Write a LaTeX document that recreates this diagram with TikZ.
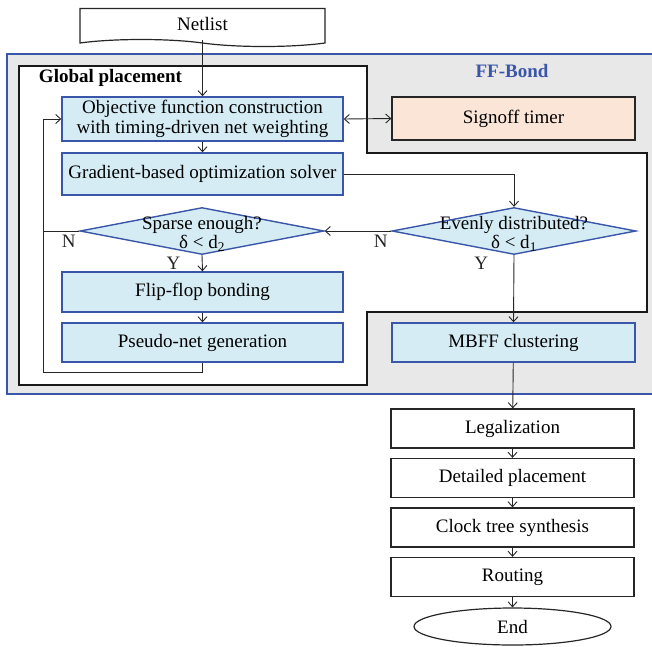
\documentclass[tikz,border=0pt]{standalone}
\usepackage{fontspec}
\setmainfont{Liberation Serif}
\usepackage{tikz}
\usetikzlibrary{shapes.geometric,shapes.symbols,arrows.meta}
\definecolor{ffblue}{RGB}{58,86,168}
\definecolor{cellblue}{RGB}{213,236,244}
\definecolor{timerpeach}{RGB}{251,229,214}
\definecolor{regiongray}{RGB}{232,232,232}
\tikzstyle{stage} = [rectangle, minimum width=281pt, minimum height=42pt, text centered, draw=ffblue, line width=1.4pt, fill=cellblue]
\tikzstyle{flow} = [rectangle, minimum width=243pt, minimum height=39pt, text centered, draw=black!85, line width=1.3pt, fill=white]
\tikzstyle{timer} = [rectangle, minimum width=243pt, minimum height=43pt, text centered, draw=black!85, line width=1.3pt, fill=timerpeach]
\tikzstyle{decision} = [diamond, minimum width=244pt, minimum height=47pt, inner sep=0pt, draw=ffblue, line width=1.4pt, fill=cellblue]
\tikzstyle{dtext} = [align=center, font=\fontsize{19pt}{17pt}\selectfont, yshift=-3pt]
\tikzstyle{doc} = [tape, tape bend top=none, tape bend bottom=out and in, tape bend height=7pt, minimum width=245pt, minimum height=38pt, draw=black!85, line width=1.2pt, fill=white]
\tikzstyle{arrow} = [black!85, line width=0.9pt, ->, >={Straight Barb[length=5pt,width=9pt]}]

\begin{document}
\begin{tikzpicture}[x=1pt, y=1pt, node distance=49.5pt, font=\fontsize{19pt}{20pt}\selectfont]
  \useasboundingbox (0,0) rectangle (652,-646);
  % FF-Bond region and global placement region
  \draw[ffblue, line width=1.5pt, fill=regiongray] (7,-54) rectangle (660,-394);
  \draw[black!90, line width=1.8pt, fill=white] (19,-66) -- (367,-66) -- (367,-153) -- (647,-153)
    -- (647,-312) -- (367,-312) -- (367,-385) -- (19,-385) -- cycle;
  \node (ffbond) at (512,-71) {\textcolor{ffblue}{\bfseries FF-Bond}};
  \node (gplabel) at (110.5,-78) {\bfseries Global placement};

  \node (netlist)[doc] at (202.5,-24) {Netlist};
  \node (objective)[stage, align=center] at (202.5,-119) {Objective function construction\\with timing-driven net weighting};
  \node (signoff)[timer] at (513.5,-118.5) {Signoff timer};
  \node (gradient)[stage] at (202.5,-174) {Gradient-based optimization solver};
  \node (sparse)[decision] at (202,-231) {};
  \node (sparsetxt)[dtext] at (sparse) {Sparse enough?\\δ < d\textsubscript{2}};
  \node (even)[decision] at (514,-231) {};
  \node (eventxt)[dtext] at (even) {Evenly distributed?\\δ < d\textsubscript{1}};
  \node (flip)[stage, minimum height=40pt] at (202.5,-292) {Flip-flop bonding};
  \node (pseudo)[stage, minimum height=39pt] at (202.5,-342.5) {Pseudo-net generation};
  \node (mbff)[stage, minimum width=243pt, minimum height=39pt] at (513.5,-342.5) {MBFF clustering};
  \node (legal)[flow] at (512.5,-428.5) {Legalization};
  \node (detail)[flow, below of=legal] {Detailed placement};
  \node (cts)[flow, below of=detail] {Clock tree synthesis};
  \node (route)[flow, below of=cts] {Routing};
  \node (finish)[ellipse, draw=black!85, line width=1.2pt, minimum width=197pt, minimum height=37pt, below of=route] {End};
  \coordinate (loopx) at (43,-372);

  \draw[arrow] (netlist.south) -- (objective.north);
  \draw[arrow, <->] (objective.east) -- (signoff.west);
  \draw[arrow] (objective) -- (gradient);
  \draw[arrow] (gradient.east) -| (even.north);
  \draw[arrow] (even.west) node[below left]{N} -- (sparse.east);
  \draw[arrow] (even.south) -- (mbff.north) node[pos=0.12, left=22pt]{Y};
  \draw[arrow] (sparse.south) -- (flip.north) node[midway, left=18pt]{Y};
  \draw[black!85, line width=0.9pt] (sparse.west) node[below left]{N} -- (sparse.west -| loopx);
  \draw[arrow] (flip) -- (pseudo);
  \draw[arrow] (pseudo.south) |- (loopx) |- (objective.west);
  \draw[arrow] (mbff) -- (legal);
  \draw[arrow] (legal) -- (detail);
  \draw[arrow] (detail) -- (cts);
  \draw[arrow] (cts) -- (route);
  \draw[arrow] (route) -- (finish);
\end{tikzpicture}
\end{document}
